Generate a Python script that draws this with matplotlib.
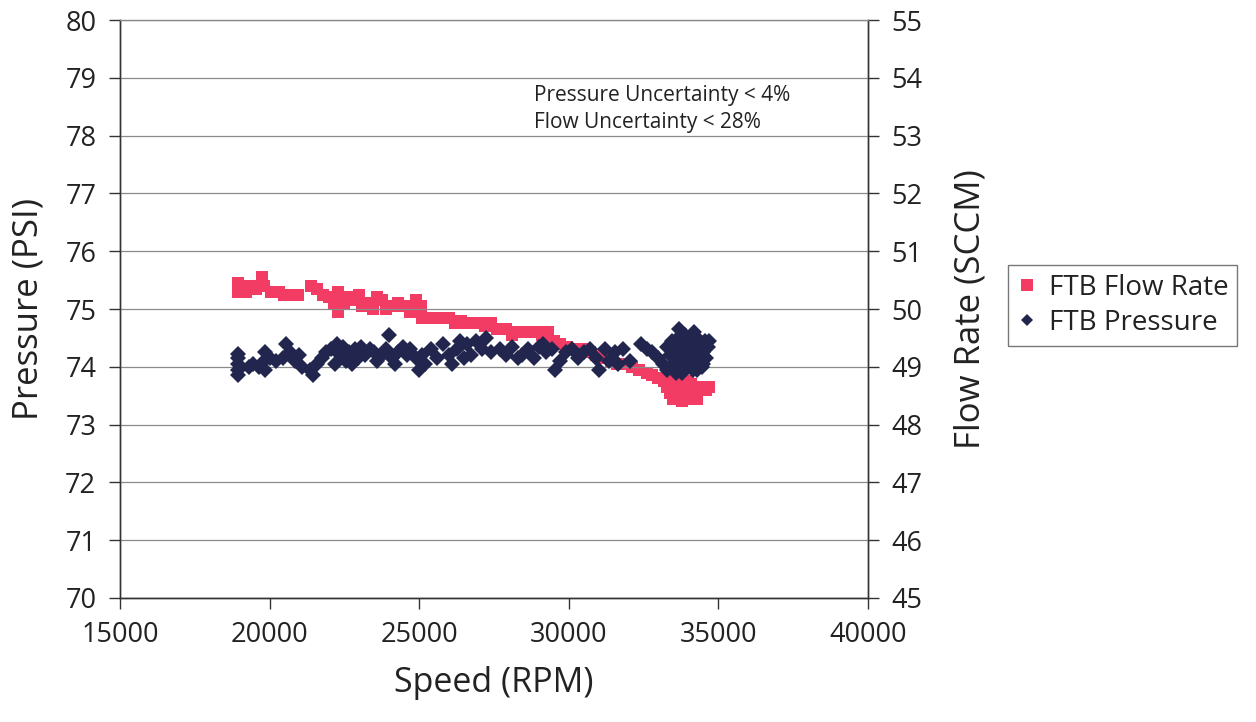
import matplotlib
matplotlib.use("Agg")
import matplotlib.pyplot as plt
from matplotlib.lines import Line2D

plt.rcParams['font.family'] = ['Open Sans', 'DejaVu Sans']

# FTB flow rate (SCCM) versus speed (RPM)
flow_rpm = [18940, 18940, 19200, 19350, 19550, 19750, 19800, 20050, 20300, 20500,
            20750, 20950, 21400, 21600, 21800, 22000, 22150, 22300, 22300, 22500,
            22700, 22850, 23000, 23100, 23300, 23450, 23600, 23750, 23900, 24100,
            24300, 24500, 24700, 24900, 25050, 25100, 25300, 25500, 25700, 26000,
            26200, 26400, 26600, 26800, 27000, 27200, 27400, 27600, 27900, 28100,
            28300, 28600, 28900, 29100, 29300, 29500, 29700, 29950, 30200, 30450,
            30700, 30900, 31150, 31400, 31600, 31850, 32100, 32350, 32600, 32800,
            33000, 33200, 33300, 33400, 33500, 33600, 33700, 33800, 33900, 34000,
            34100, 34200, 34300, 34450, 34600, 34700, 33400, 33700, 34000]
flow_sccm = [50.45, 50.30, 50.30, 50.40, 50.35, 50.55, 50.40, 50.30, 50.30, 50.25,
             50.25, 50.25, 50.40, 50.35, 50.25, 50.20, 50.10, 49.95, 50.30, 50.10,
             50.20, 50.15, 50.25, 50.05, 50.10, 50.00, 50.20, 50.15, 50.00, 50.05,
             50.10, 50.05, 49.95, 50.15, 50.05, 49.85, 49.85, 49.85, 49.85, 49.85,
             49.75, 49.80, 49.75, 49.75, 49.75, 49.70, 49.75, 49.65, 49.65, 49.55,
             49.60, 49.60, 49.60, 49.55, 49.60, 49.45, 49.40, 49.35, 49.30, 49.30,
             49.25, 49.20, 49.15, 49.10, 49.05, 49.05, 49.00, 48.95, 48.90, 48.85,
             48.80, 48.75, 48.65, 48.55, 48.45, 48.65, 48.50, 48.40, 48.60, 48.45,
             48.70, 48.55, 48.45, 48.65, 48.60, 48.65, 48.80, 48.80, 48.75]

# FTB pressure (PSI) versus speed (RPM)
pres_rpm = [18940, 18940, 18940, 18940, 18940, 19300, 19450, 19650, 19800, 19850,
            19850, 20000, 20200, 20450, 20550, 20700, 20850, 21000, 21100, 21350,
            21450, 21600, 21750, 21900, 22050, 22200, 22250, 22350, 22450, 22550,
            22650, 22750, 22850, 22950, 23050, 23200, 23350, 23500, 23600, 23750,
            23900, 24000, 24100, 24200, 24300, 24450, 24600, 24700, 24900, 25000,
            25100, 25200, 25400, 25600, 25800, 26000, 26100, 26250, 26350, 26500,
            26600, 26750, 26900, 27100, 27250, 27400, 27700, 27900, 28100, 28300,
            28450, 28650, 28850, 29000, 29150, 29250, 29450, 29550, 29700, 29900,
            30100, 30300, 30500, 30700, 30900, 31000, 31200, 31350, 31550, 31650,
            31800, 32050, 32400, 32600, 32800, 33000, 33150, 33300, 33300,
            33400, 33450, 33500, 33550, 33600, 33650, 33700, 33700, 33750, 33800,
            33850, 33900, 33950, 34000, 34050, 34100, 34150, 34200, 34250, 34300,
            34350, 34400, 34450, 34500, 34550, 34600, 34650, 34700, 33600, 34000,
            34300, 33500, 33800, 34500, 33900, 34200, 33650, 34100, 34400, 33400]
pres_psi = [73.85, 73.95, 74.05, 74.15, 74.22, 74.00, 74.05, 74.00, 74.10, 74.25,
            73.95, 74.15, 74.10, 74.15, 74.40, 74.25, 74.10, 74.20, 74.00, 73.95,
            73.85, 74.05, 74.15, 74.25, 74.30, 74.05, 74.40, 74.20, 74.35, 74.10,
            74.25, 74.05, 74.30, 74.15, 74.35, 74.20, 74.30, 74.25, 74.10, 74.20,
            74.30, 74.55, 74.15, 74.05, 74.25, 74.35, 74.20, 74.30, 74.15, 73.95,
            74.20, 74.05, 74.30, 74.15, 74.40, 74.20, 74.05, 74.30, 74.45, 74.15,
            74.40, 74.20, 74.45, 74.30, 74.50, 74.25, 74.30, 74.20, 74.35, 74.15,
            74.20, 74.30, 74.15, 74.35, 74.40, 74.25, 74.30, 73.95, 74.10, 74.25,
            74.30, 74.15, 74.25, 74.30, 74.15, 73.95, 74.30, 74.10, 74.25, 74.05,
            74.30, 74.10, 74.40, 74.30, 74.25, 74.15, 74.05, 74.35, 73.95,
            74.20, 74.45, 74.00, 74.30, 74.10, 74.50, 74.65, 74.25, 73.95, 74.40,
            74.15, 74.55, 74.05, 74.35, 74.20, 74.45, 73.95, 74.30, 74.10, 74.50,
            74.20, 74.40, 74.00, 74.25, 74.45, 74.15, 74.35, 74.45, 73.90, 74.00,
            73.95, 74.40, 73.90, 74.05, 74.30, 74.60, 74.05, 74.10, 74.20, 74.00]

x_ticks = [15000, 20000, 25000, 30000, 35000, 40000]
p_ticks = list(range(70, 81))
f_ticks = list(range(45, 56))

RED = '#F23C64'
NAVY = '#22264F'
AXIS = '#333333'

fig = plt.figure(figsize=(12.56, 7.22), dpi=100)
ax = fig.add_axes([0.0955, 0.172, 0.5955, 0.800])
ax2 = ax.twinx()

ax2.plot(flow_rpm, flow_sccm, linestyle='none', marker='s', ms=9.0,
         mfc=RED, mec=RED, mew=0)
ax.plot(pres_rpm, pres_psi, linestyle='none', marker='D', ms=8.5,
        mfc=NAVY, mec=NAVY, mew=0)

# pressure series drawn above the flow series
ax.set_zorder(ax2.get_zorder() + 1)
ax.patch.set_visible(False)

ax.set_xlim(15000, 40000)
ax.set_ylim(70, 80)
ax2.set_ylim(45, 55)
ax.set_xticks(x_ticks)
ax.set_yticks(p_ticks)
ax2.set_yticks(f_ticks)

ax.yaxis.grid(True, color='#8a8a8a', linewidth=0.9)
ax.set_axisbelow(True)

for a in (ax, ax2):
    for s in a.spines.values():
        s.set_color(AXIS)
        s.set_linewidth(1.0)
    a.tick_params(axis='both', direction='out', length=8, width=1.0,
                  color=AXIS, labelsize=19.5, labelcolor='#222222', pad=9)
ax.spines['top'].set_color('#8a8a8a')
ax2.spines['top'].set_visible(False)

ax.set_xlabel('Speed (RPM)', fontsize=24.5, color='#222222', labelpad=12)
ax.set_ylabel('Pressure (PSI)', fontsize=25, color='#222222', labelpad=14)
ax2.set_ylabel('Flow Rate (SCCM)', fontsize=25, color='#222222', labelpad=22)

ax.text(0.553, 0.888, 'Pressure Uncertainty < 4%\nFlow Uncertainty < 28%',
        transform=ax.transAxes, fontsize=15, color='#222222',
        va='top', ha='left', linespacing=1.4)

handles = [
    Line2D([], [], linestyle='none', marker='s', ms=8, mfc=RED, mec=RED, mew=0),
    Line2D([], [], linestyle='none', marker='D', ms=6.5, mfc=NAVY, mec=NAVY, mew=0),
]
leg = fig.legend(handles, ['FTB Flow Rate', 'FTB Pressure'],
                 loc='upper left', bbox_to_anchor=(1008 / 1256, 1 - 265 / 722),
                 fontsize=20, frameon=True, fancybox=False,
                 handlelength=0.7, handletextpad=0.45, borderpad=0.32,
                 labelspacing=0.25, borderaxespad=0)
leg.get_frame().set_edgecolor('#555555')
leg.get_frame().set_linewidth(1.0)
for t in leg.get_texts():
    t.set_color('#222222')

fig.savefig('out.png', dpi=100, facecolor='white')
